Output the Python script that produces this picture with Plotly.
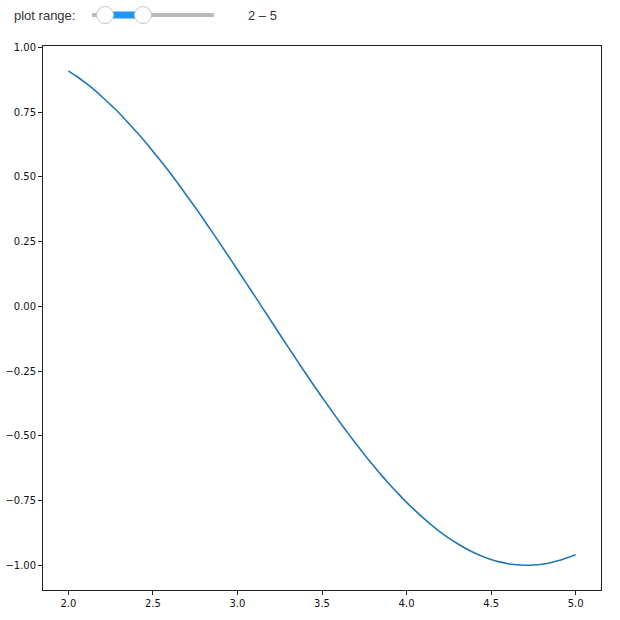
import plotly.graph_objects as go

# data
x_vals = [2.00, 2.05, 2.10, 2.15, 2.20, 2.25, 2.30, 2.35, 2.40, 2.45, 2.50, 2.55, 2.60, 2.65, 2.70, 2.75,
          2.80, 2.85, 2.90, 2.95, 3.00, 3.05, 3.10, 3.15, 3.20, 3.25, 3.30, 3.35, 3.40, 3.45, 3.50,
          3.55, 3.60, 3.65, 3.70, 3.75, 3.80, 3.85, 3.90, 3.95, 4.00, 4.05, 4.10, 4.15, 4.20, 4.25,
          4.30, 4.35, 4.40, 4.45, 4.50, 4.55, 4.60, 4.65, 4.70, 4.75, 4.80, 4.85, 4.90, 4.95, 5.00]
y_vals = [0.909, 0.887, 0.863, 0.837, 0.808, 0.778, 0.746, 0.711, 0.675, 0.638, 0.598, 0.558, 0.516,
          0.472, 0.427, 0.382, 0.335, 0.287, 0.239, 0.190, 0.141, 0.091, 0.042, -0.008, -0.058, -0.108,
          -0.158, -0.207, -0.256, -0.304, -0.351, -0.397, -0.443, -0.487, -0.530, -0.572, -0.612,
          -0.651, -0.688, -0.723, -0.757, -0.788, -0.818, -0.846, -0.872, -0.895, -0.916, -0.935,
          -0.952, -0.966, -0.978, -0.987, -0.994, -0.998, -1.000, -0.999, -0.996, -0.990, -0.982,
          -0.971, -0.959]
x_ticks = [2.0, 2.5, 3.0, 3.5, 4.0, 4.5, 5.0]
x_tick_labels = ["2.0", "2.5", "3.0", "3.5", "4.0", "4.5", "5.0"]
y_ticks = [-1.0, -0.75, -0.5, -0.25, 0.0, 0.25, 0.5, 0.75, 1.0]
y_tick_labels = ["\u22121.00", "\u22120.75", "\u22120.50", "\u22120.25", "0.00", "0.25", "0.50", "0.75", "1.00"]
slider_label = "plot range:"
range_label = "2 \u2013 5"

W, H = 620, 620
L, R, T, B = 43, 19, 46, 30
PW, PH = W - L - R, H - T - B

def px_x(p):
    return (p - L) / PW

def px_y(p):
    return (H - B - p) / PH

fig = go.Figure()
fig.add_trace(go.Scatter(x=x_vals, y=y_vals, mode="lines",
                         line=dict(color="#1f77b4", width=1.6, shape="spline", smoothing=0.8),
                         hoverinfo="skip", showlegend=False))

tickfont = dict(family="DejaVu Sans", size=10, color="#111")
axis_common = dict(showgrid=False, zeroline=False, showline=True, mirror=True, linecolor="#222", linewidth=0.9,
                   ticks="outside", ticklen=4, tickwidth=0.9, tickcolor="#222", tickfont=tickfont)

fig.update_xaxes(range=[1.85, 5.15], tickvals=x_ticks, ticktext=x_tick_labels, **axis_common)
fig.update_yaxes(range=[-1.0955, 1.0048], tickvals=y_ticks, ticktext=y_tick_labels, **axis_common)

sy = 15
shapes = [
    dict(type="line", xref="paper", yref="paper", x0=px_x(92), x1=px_x(214), y0=px_y(sy), y1=px_y(sy),
         line=dict(color="#bbbbbb", width=4)),
    dict(type="line", xref="paper", yref="paper", x0=px_x(105), x1=px_x(143), y0=px_y(sy), y1=px_y(sy),
         line=dict(color="#2196f3", width=7)),
]
for cx in (105, 143):
    shapes.append(dict(type="circle", xref="paper", yref="paper",
                       x0=px_x(cx - 8.5), x1=px_x(cx + 8.5), y0=px_y(sy + 8.5), y1=px_y(sy - 8.5),
                       fillcolor="white", line=dict(color="#c8c8c8", width=1)))

annotations = [
    dict(text=slider_label, xref="paper", yref="paper", x=px_x(12), y=px_y(sy), xanchor="left", yanchor="middle",
         showarrow=False, font=dict(family="Liberation Sans", size=13, color="#333")),
    dict(text=range_label, xref="paper", yref="paper", x=px_x(262), y=px_y(sy), xanchor="center", yanchor="middle",
         showarrow=False, font=dict(family="Liberation Sans", size=13, color="#333")),
]

fig.update_layout(width=W, height=H, margin=dict(l=L, r=R, t=T, b=B, autoexpand=False),
                  paper_bgcolor="white", plot_bgcolor="white", shapes=shapes, annotations=annotations)

fig.write_html("out.html", config={"displayModeBar": False}, post_script="document.body.style.margin='0';")
